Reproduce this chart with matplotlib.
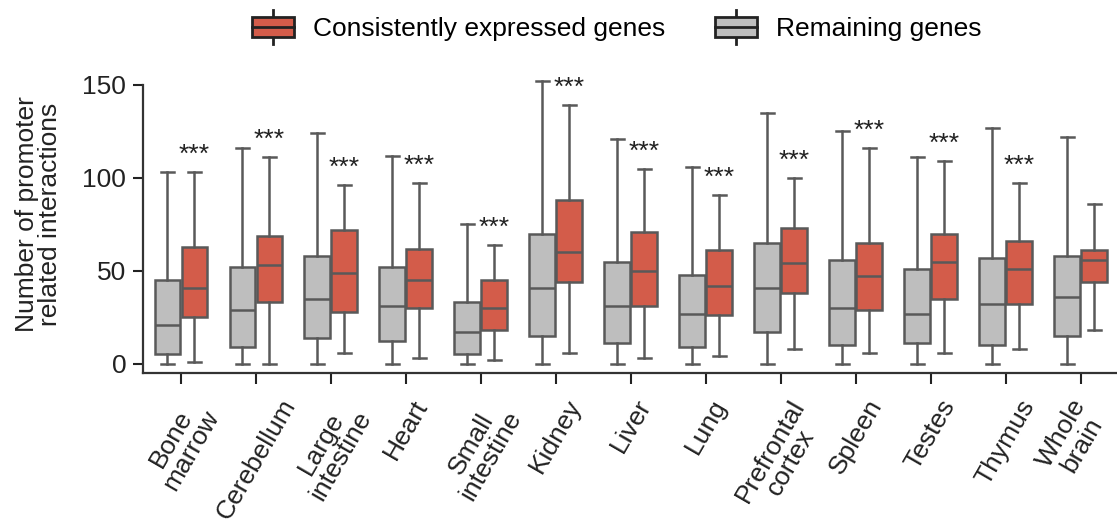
import numpy as np
import matplotlib
matplotlib.use("Agg")
import matplotlib.pyplot as plt
from matplotlib.legend_handler import HandlerBase
from matplotlib.patches import Rectangle, Patch
from matplotlib.lines import Line2D
from matplotlib.transforms import ScaledTranslation

plt.rcParams.update({"font.family": ["Liberation Sans", "DejaVu Sans"], "font.size": 19,
                     "axes.spines.top": False, "axes.spines.right": False})

RED, GREY, EDGE, INK = "#d35c4a", "#bebebe", "#595959", "#222222"

tissues = ["Bone\nmarrow", "Cerebellum", "Large\nintestine", "Heart", "Small\nintestine",
           "Kidney", "Liver", "Lung", "Prefrontal\ncortex", "Spleen", "Testes", "Thymus",
           "Whole\nbrain"]

# (whisker low, Q1, median, Q3, whisker high)
remaining = [(0, 5, 21, 45, 103), (0, 9, 29, 52, 116), (0, 14, 35, 58, 124),
             (0, 12, 31, 52, 112), (0, 5, 17, 33, 75), (0, 15, 41, 70, 152),
             (0, 11, 31, 55, 121), (0, 9, 27, 48, 106), (0, 17, 41, 65, 135),
             (0, 10, 30, 56, 125), (0, 11, 27, 51, 111), (0, 10, 32, 57, 127),
             (0, 15, 36, 58, 122)]
consistent = [(1, 25, 41, 63, 103), (0, 33, 53, 69, 111), (6, 28, 49, 72, 96),
              (3, 30, 45, 62, 97), (2, 18, 30, 45, 64), (6, 44, 60, 88, 139),
              (3, 31, 50, 71, 105), (4, 26, 42, 61, 91), (8, 38, 54, 73, 100),
              (6, 29, 47, 65, 116), (6, 35, 55, 70, 109), (8, 32, 51, 66, 97),
              (18, 44, 56, 61, 86)]
signif = ["***"] * 12 + [""]


def to_stats(rows):
    return [dict(whislo=a, q1=b, med=c, q3=d, whishi=e, fliers=[]) for a, b, c, d, e in rows]


class BoxHandler(HandlerBase):
    def create_artists(self, legend, orig_handle, xdescent, ydescent, width, height,
                       fontsize, trans):
        x0, y0 = -xdescent, -ydescent
        bh = 0.73 * height
        by = y0 + (height - bh) / 2
        kw = dict(color="#222222", lw=2, transform=trans)
        whisk = Line2D([x0 + width / 2] * 2, [y0 - 0.1 * height, y0 + 1.1 * height], **kw)
        box = Rectangle((x0, by), width, bh, facecolor=orig_handle.get_facecolor(),
                        edgecolor="#222222", lw=2, transform=trans)
        med = Line2D([x0, x0 + width], [by + bh / 2] * 2, **kw)
        return [whisk, box, med]


fig = plt.figure(figsize=(11.17, 5.22), dpi=100)
ax = fig.add_axes([0.128, 0.2854, 0.873, 0.5625])
x = np.arange(len(tissues))
off, w = 0.18, 0.345
lines = dict(color=EDGE, linewidth=1.8)
for stats, pos, col in [(remaining, x - off, GREY), (consistent, x + off, RED)]:
    ax.bxp(to_stats(stats), positions=pos, widths=w, patch_artist=True, showfliers=False,
           manage_ticks=False,
           boxprops=dict(facecolor=col, edgecolor=EDGE, linewidth=1.8),
           medianprops=lines, whiskerprops=lines, capprops=lines)

# significance marks sit just above the upper whisker of the red box
for i, s in enumerate(signif):
    if s:
        ax.text(x[i] + off, consistent[i][4] + 5.5, s, ha="center", va="baseline",
                fontsize=19, color=INK)

ax.set_xlim(-0.507, 12.5)
ax.set_ylim(-5, 153)
ax.spines["left"].set_bounds(-5, 150)
ax.set_yticks([0, 50, 100, 150])
ax.set_xticks(x)
ax.set_xticklabels([])
# rotated category names; the last one is nudged left so it stays inside the figure
for i, name in enumerate(tissues):
    dx = -9 if i == len(tissues) - 1 else 0
    tr = ax.get_xaxis_transform() + ScaledTranslation(dx / 100, -16 / 72, fig.dpi_scale_trans)
    ax.text(x[i], 0, name, transform=tr, rotation=60, ha="center", va="top",
            multialignment="center", linespacing=0.95, color=INK, clip_on=False)
for sp in ax.spines.values():
    sp.set_linewidth(1.6)
    sp.set_color("#333333")
ax.tick_params(axis="y", length=7, width=1.5, pad=5, colors=INK)
ax.tick_params(axis="x", length=8, width=1.5, colors=INK)
ax.set_ylabel("Number of promoter\nrelated interactions", color=INK, linespacing=0.95)
ax.yaxis.set_label_coords(-0.083, 0.54)

handles = [Patch(facecolor=RED), Patch(facecolor=GREY)]
fig.legend(handles, ["Consistently expressed genes", "Remaining genes"],
           handler_map={Patch: BoxHandler()}, loc="center", bbox_to_anchor=(0.552, 0.948),
           ncol=2, frameon=False, handlelength=1.6, handleheight=1.25,
           handletextpad=0.7, columnspacing=1.9)

fig.savefig("out.png", dpi=100)
